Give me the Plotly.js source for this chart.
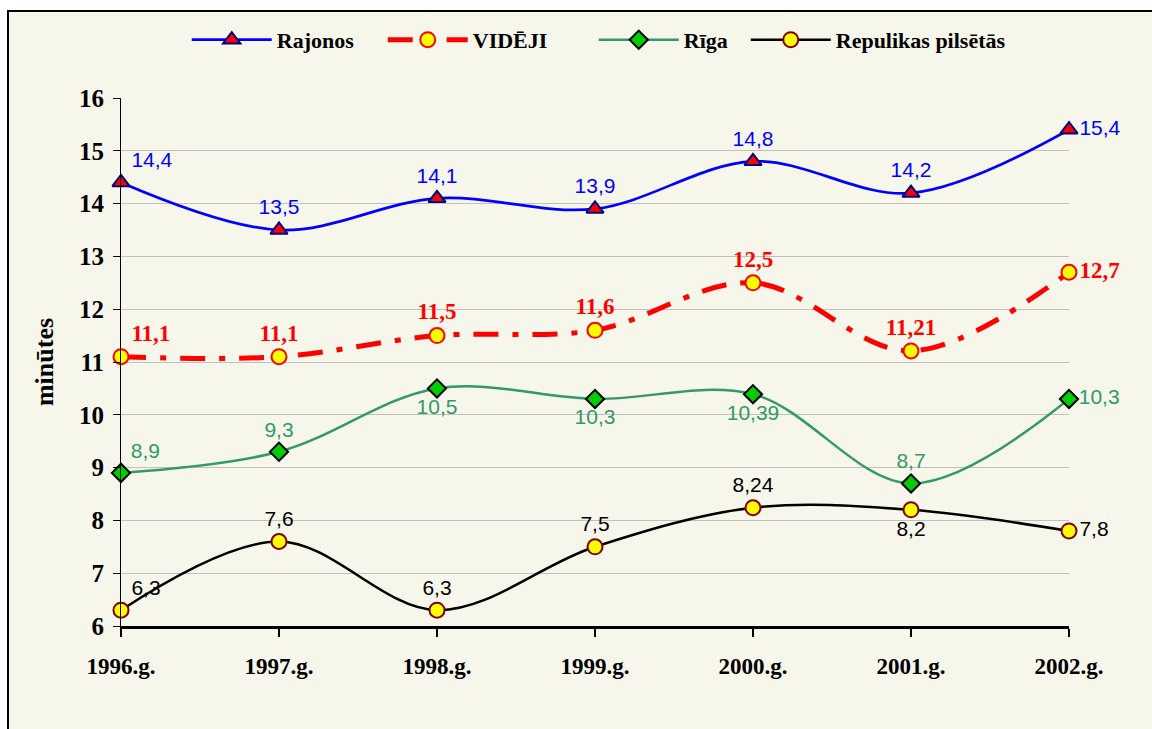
<!DOCTYPE html>
<html>
<head>
<meta charset="utf-8">
<script src="https://cdn.plot.ly/plotly-3.0.1.min.js"></script>
<style>html,body{margin:0;padding:0;background:#fff;}#chart{width:1152px;height:729px;}</style>
</head>
<body>
<div id="chart"></div>
<script>
const years = ["1996.g.", "1997.g.", "1998.g.", "1999.g.", "2000.g.", "2001.g.", "2002.g."];
const rajonos = [14.4, 13.5, 14.1, 13.9, 14.8, 14.2, 15.4];
const videji = [11.1, 11.1, 11.5, 11.6, 12.5, 11.21, 12.7];
const riga = [8.9, 9.3, 10.5, 10.3, 10.39, 8.7, 10.3];
const republikas = [6.3, 7.6, 6.3, 7.5, 8.24, 8.2, 7.8];
const yTicks = [6, 7, 8, 9, 10, 11, 12, 13, 14, 15, 16];

const xIdx = years.map((_, i) => i);
const fmt = v => String(v).replace('.', ',');

const posRaj = ['top right','top center','top center','top center','top center','top center','middle right'];
const posVid = ['top right','top center','top center','top center','top center','top center','middle right'];
const posRig = ['top right','top center','bottom center','bottom center','bottom center','top center','middle right'];
const posRep = ['top right','top center','top center','top center','top center','bottom center','middle right'];

const sans = 'Liberation Sans, Arial, sans-serif';
const serif = 'Liberation Serif, Times New Roman, serif';

const traces = [
  {
    name: 'Rajonos', x: xIdx, y: rajonos, mode: 'lines+markers+text', legendwidth: 101,
    line: {color: '#0000FF', width: 2.7, shape: 'spline', smoothing: 1},
    marker: {symbol: 'triangle-up', size: 15, color: '#FF0000', line: {color: '#000080', width: 2}},
    text: rajonos.map(fmt), textposition: posRaj,
    textfont: {family: sans, size: 21, color: '#0000FF'}, cliponaxis: false
  },
  {
    name: 'VIDĒJI', x: xIdx, y: videji, mode: 'lines+markers+text', legendwidth: 116,
    line: {color: '#FF0000', width: 5, shape: 'spline', smoothing: 1, dash: '25px,14px,6px,14px'},
    marker: {symbol: 'circle', size: 15, color: '#FFFF00', line: {color: '#FF0000', width: 2}},
    text: videji.map(fmt), textposition: posVid,
    textfont: {family: serif, size: 23, color: '#FF0000', weight: 'bold'}, cliponaxis: false
  },
  {
    name: 'Rīga', x: xIdx, y: riga, mode: 'lines+markers+text', legendwidth: 57,
    line: {color: '#339966', width: 2.5, shape: 'spline', smoothing: 1},
    marker: {symbol: 'diamond', size: 14, color: '#00CC00', line: {color: '#000000', width: 2}},
    text: riga.map(fmt), textposition: posRig,
    textfont: {family: sans, size: 21, color: '#339966'}, cliponaxis: false
  },
  {
    name: 'Repulikas pilsētās', x: xIdx, y: republikas, mode: 'lines+markers+text', legendwidth: 172,
    line: {color: '#000000', width: 2.5, shape: 'spline', smoothing: 1},
    marker: {symbol: 'circle', size: 15, color: '#FFFF00', line: {color: '#800000', width: 2}},
    text: republikas.map(fmt), textposition: posRep,
    textfont: {family: sans, size: 21, color: '#000000'}, cliponaxis: false
  }
];

const layout = {
  width: 1152, height: 729,
  margin: {l: 121, r: 83, t: 98, b: 103},
  paper_bgcolor: '#FFFFFF',
  plot_bgcolor: 'rgba(0,0,0,0)',
  showlegend: true,
  legend: {
    orientation: 'h', x: 0.505, xanchor: 'center', y: 1.11, yanchor: 'middle',
    font: {family: serif, size: 22, color: '#000', weight: 'bold'},
    bgcolor: 'rgba(0,0,0,0)', itemwidth: 80
  },
  xaxis: {
    range: [0, 6], tickvals: xIdx, ticktext: years,
    showgrid: false, zeroline: false,
    showline: true, linecolor: '#000', linewidth: 2.5,
    ticks: 'outside', ticklen: 8, tickwidth: 2, tickcolor: '#000',
    ticklabelstandoff: 10,
    tickfont: {family: serif, size: 23, color: '#000', weight: 'bold'}
  },
  yaxis: {
    range: [6, 16], tickvals: yTicks, ticktext: yTicks.map(String),
    showgrid: true, gridcolor: '#C0C0C0', gridwidth: 1, zeroline: false,
    showline: true, linecolor: '#000', linewidth: 1,
    ticks: 'outside', ticklen: 7, tickwidth: 1, tickcolor: '#000',
    ticklabelstandoff: 4,
    tickfont: {family: serif, size: 25, color: '#000', weight: 'bold'},
    title: {text: 'minūtes', standoff: 17, font: {family: serif, size: 26, color: '#000', weight: 'bold'}}
  },
  shapes: [
    {type: 'rect', xref: 'paper', yref: 'paper', x0: -0.1192, x1: 1.2, y0: -0.4, y1: 1.1648,
     line: {color: '#000', width: 2}, fillcolor: '#F6F6EA', layer: 'below'}
  ]
};

Plotly.newPlot('chart', traces, layout, {displayModeBar: false, staticPlot: true});
</script>
</body>
</html>
